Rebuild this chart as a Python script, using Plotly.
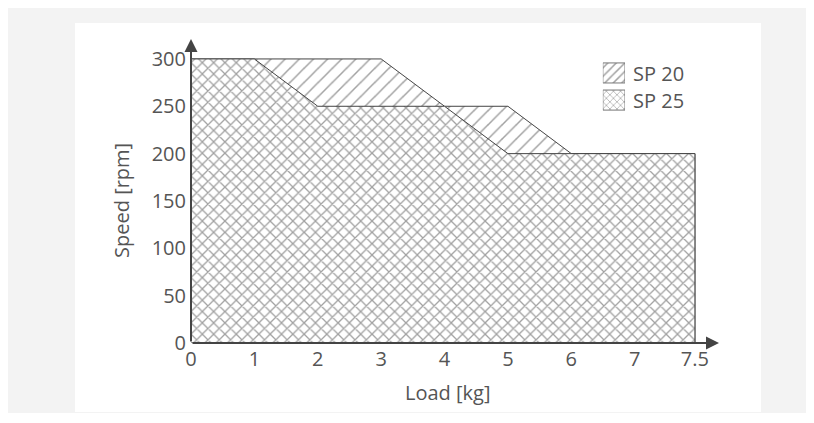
import plotly.graph_objects as go

# data
sp20_load = [0, 3, 4, 5, 6, 7.95]
sp20_speed = [300, 300, 250, 250, 200, 200]
sp25_load = [0, 1, 2, 4, 5, 7.95]
sp25_speed = [300, 300, 250, 250, 200, 200]

x_ticks = [0, 1, 2, 3, 4, 5, 6, 7, 7.95]
x_labels = ['0', '1', '2', '3', '4', '5', '6', '7', '7.5']
y_ticks = [0, 50, 100, 150, 200, 250, 300]

series_names = ['SP 20', 'SP 25']

txt = '#555555'
ln = '#444444'

fig = go.Figure()

fig.add_trace(go.Scatter(
    x=sp20_load + [7.95, 0], y=sp20_speed + [0, 0], name='SP 20', showlegend=False,
    mode='lines', fill='toself', fillcolor='white',
    fillpattern=dict(shape='/', size=10, solidity=0.15, fgcolor=ln, bgcolor='white'),
    line=dict(color=ln, width=1)))

fig.add_trace(go.Scatter(
    x=sp25_load + [7.95, 0], y=sp25_speed + [0, 0], name='SP 25', showlegend=False,
    mode='lines', fill='toself', fillcolor='white',
    fillpattern=dict(shape='x', size=8, solidity=0.3, fgcolor=ln, bgcolor='white'),
    line=dict(color=ln, width=1)))

# legend keys drawn as a tiny bar chart on its own axes
for name, shape, size in zip(series_names, ['/', 'x'], [6, 5]):
    fig.add_trace(go.Bar(
        y=[name], x=[1], orientation='h', xaxis='x2', yaxis='y2', showlegend=False,
        width=0.74, hoverinfo='skip',
        marker=dict(color='white', line=dict(color='#777777', width=1),
                    pattern=dict(shape=shape, size=size, solidity=0.25, fgcolor=ln, bgcolor='white'))))
    fig.add_annotation(text=name, x=1, y=name, xref='x2', yref='y2', xanchor='left',
                       yanchor='middle', xshift=6, height=22, showarrow=False,
                       font=dict(size=20, color=txt))

# axis arrows
fig.add_annotation(x=0, y=321, ax=0, ay=0, xref='x', yref='y', axref='x', ayref='y',
                   showarrow=True, arrowhead=2, arrowsize=1.3, arrowwidth=2, arrowcolor=ln, text='')
fig.add_annotation(x=8.33, y=0, ax=0, ay=0, xref='x', yref='y', axref='x', ayref='y',
                   showarrow=True, arrowhead=2, arrowsize=1.3, arrowwidth=2, arrowcolor=ln, text='')

# titles
fig.add_annotation(text='Load [kg]', x=0.485, y=-0.162, xref='paper', yref='paper',
                   xanchor='center', yanchor='middle', showarrow=False,
                   font=dict(size=20, color=txt))
fig.add_annotation(text='Speed [rpm]', x=0, y=150, xref='paper', yref='y', xshift=-69,
                   xanchor='center', yanchor='middle',
                   textangle=-90, showarrow=False, font=dict(size=20, color=txt))

# white card on gray page
fig.add_shape(type='rect', xref='paper', yref='paper', x0=-0.2197, x1=1.0795, y0=-0.228, y1=1.056,
              fillcolor='white', line=dict(width=0), layer='below')

fig.update_layout(
    width=814, height=405,
    margin=dict(l=183, r=103, t=32, b=70),
    paper_bgcolor='#f3f3f3', plot_bgcolor='white',
    font=dict(family='Open Sans', size=20, color=txt),
    showlegend=False,
    xaxis=dict(range=[0, 8.33], tickvals=x_ticks, ticktext=x_labels, showgrid=False,
               zeroline=False, showline=False, ticks='', ticklabelstandoff=2),
    yaxis=dict(range=[0, 320], tickvals=y_ticks, showgrid=False, zeroline=False,
               showline=False, ticks='', ticklabelstandoff=4),
    xaxis2=dict(domain=[0.780, 0.822], range=[0, 1], anchor='y2', showticklabels=False,
                showgrid=False, zeroline=False, showline=False, ticks=''),
    yaxis2=dict(domain=[0.757, 0.936], anchor='x2', type='category', categoryorder='array',
                categoryarray=series_names[::-1], range=[-0.5, 1.5], showticklabels=False,
                showgrid=False, zeroline=False, showline=False, ticks=''),
)

fig.write_html("out.html")
